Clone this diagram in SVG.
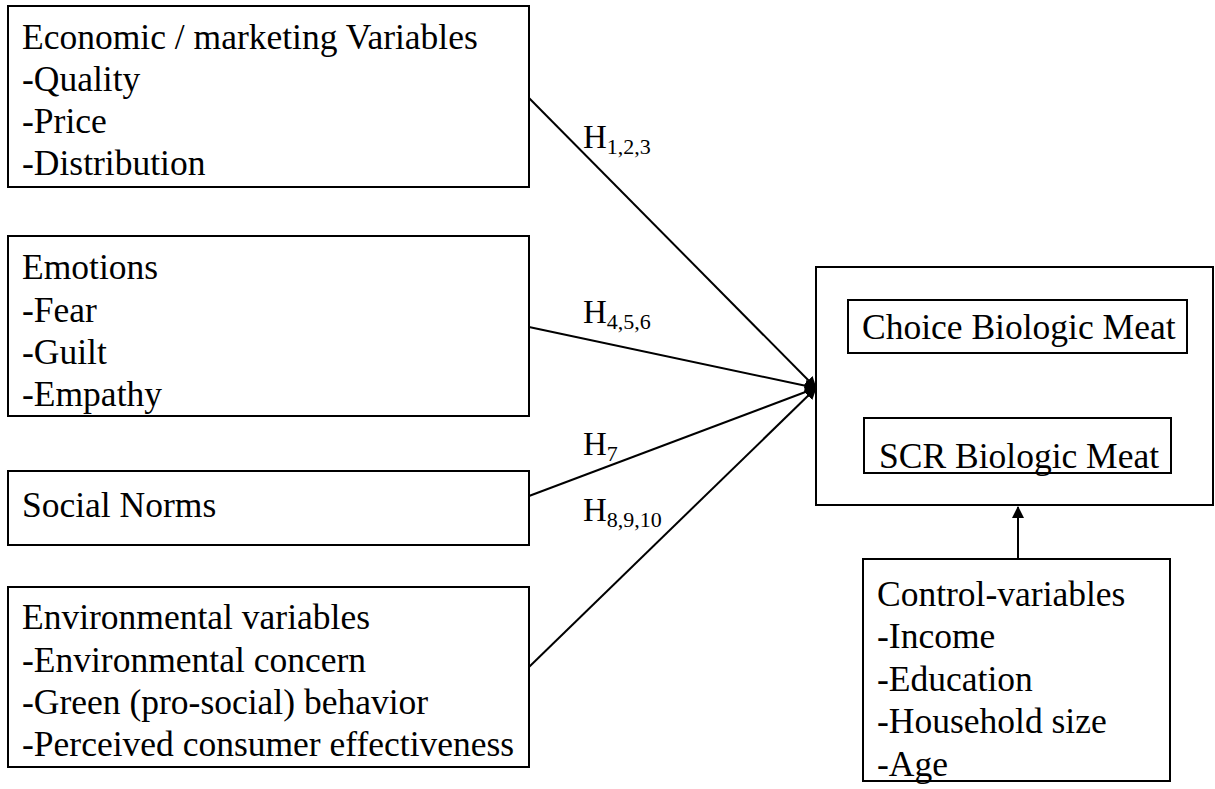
<svg xmlns="http://www.w3.org/2000/svg" width="1215" height="789" viewBox="0 0 1215 789">
<style>
.box{fill:#fff;stroke:#000;stroke-width:2}
.t{font-family:"Liberation Serif","Times New Roman",serif;font-size:35.5px;fill:#000}
.h{font-family:"Liberation Serif","Times New Roman",serif;font-size:33px;fill:#000}
.s{font-size:22px}
.c{stroke:#000;stroke-width:2;fill:none}
</style>
<defs>
<marker id="ah" viewBox="0 0 12 12" refX="11" refY="6" markerWidth="12" markerHeight="12" markerUnits="userSpaceOnUse" orient="auto">
<path d="M0,0 L12,6 L0,12 z" fill="#000"/>
</marker>
</defs>
<rect width="1215" height="789" fill="#fff"/>
<g id="connectors">
<line class="c" x1="529" y1="98" x2="816" y2="388" marker-end="url(#ah)"/>
<line class="c" x1="529" y1="327" x2="816" y2="388" marker-end="url(#ah)"/>
<line class="c" x1="529" y1="496" x2="816" y2="388" marker-end="url(#ah)"/>
<line class="c" x1="529" y1="667" x2="816" y2="388" marker-end="url(#ah)"/>
<line class="c" x1="1018" y1="559" x2="1018" y2="507" marker-end="url(#ah)"/>
<text class="h" x="583" y="148">H<tspan class="s" dy="6">1,2,3</tspan></text>
<text class="h" x="583" y="323">H<tspan class="s" dy="6">4,5,6</tspan></text>
<text class="h" x="583" y="455">H<tspan class="s" dy="6">7</tspan></text>
<text class="h" x="583" y="521">H<tspan class="s" dy="6">8,9,10</tspan></text>
</g>
<g id="economic">
<rect class="box" x="8" y="6" width="521" height="181"/>
<text class="t" x="22" y="49">Economic / marketing Variables</text>
<text class="t" x="22" y="91">-Quality</text>
<text class="t" x="22" y="133">-Price</text>
<text class="t" x="22" y="175">-Distribution</text>
</g>
<g id="emotions">
<rect class="box" x="8" y="236" width="521" height="180"/>
<text class="t" x="22" y="279">Emotions</text>
<text class="t" x="22" y="322">-Fear</text>
<text class="t" x="22" y="364">-Guilt</text>
<text class="t" x="22" y="406">-Empathy</text>
</g>
<g id="social">
<rect class="box" x="8" y="471" width="521" height="74"/>
<text class="t" x="22" y="517">Social Norms</text>
</g>
<g id="environmental">
<rect class="box" x="8" y="587" width="521" height="180"/>
<text class="t" x="22" y="629">Environmental variables</text>
<text class="t" x="22" y="672">-Environmental concern</text>
<text class="t" x="22" y="714">-Green (pro-social) behavior</text>
<text class="t" x="22" y="756">-Perceived consumer effectiveness</text>
</g>
<g id="outcome">
<rect class="box" x="816" y="267" width="397" height="238"/>
</g>
<g id="choice">
<rect class="box" x="848" y="300" width="339" height="53"/>
<text class="t" x="862" y="339">Choice Biologic Meat</text>
</g>
<g id="scr">
<rect class="box" x="864" y="418" width="307" height="55"/>
<text class="t" x="879" y="468">SCR Biologic Meat</text>
</g>
<g id="control">
<rect class="box" x="863" y="559" width="307" height="222"/>
<text class="t" x="877" y="606">Control-variables</text>
<text class="t" x="877" y="648">-Income</text>
<text class="t" x="877" y="691">-Education</text>
<text class="t" x="877" y="733">-Household size</text>
<text class="t" x="877" y="776">-Age</text>
</g>
</svg>
